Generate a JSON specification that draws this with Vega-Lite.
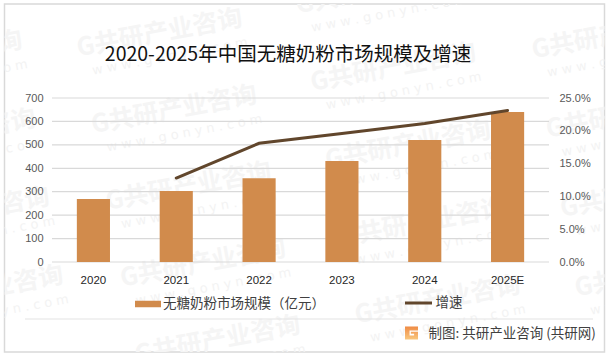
{
"$schema":"https://vega.github.io/schema/vega-lite/v6.json",
"width":600,"height":348,"autosize":"none",
"padding":{"left":4.5,"top":4,"right":4.5,"bottom":4},
"background":"white",
"view":{"stroke":"#d9d9d9","strokeWidth":1.5,"fill":"white"},
"config":{"font":"Noto Sans CJK SC"},
"title":{"text":"2020-2025年中国无糖奶粉市场规模及增速","font":"Noto Sans CJK SC","fontSize":19.5,"fontWeight":"normal","color":"#111111","anchor":"middle","frame":"group","dx":-16.5,"offset":-70,"baseline":"middle"},
"datasets":{
"sales":[{"year":"2020","size":269},{"year":"2021","size":303},{"year":"2022","size":358},{"year":"2023","size":431},{"year":"2024","size":521},{"year":"2025E","size":640}],
"growth":[{"year":"2021","rate":0.128},{"year":"2022","rate":0.181},{"year":"2023","rate":0.196},{"year":"2024","rate":0.211},{"year":"2025E","rate":0.231}],
"grid":[{"v":0},{"v":100},{"v":200},{"v":300},{"v":400},{"v":500},{"v":600},{"v":700}],
"four":[{"row":0},{"row":1},{"row":2},{"row":3}],
"five":[{"row":0},{"row":1},{"row":2},{"row":3},{"row":4}],
"one":[{"k":"x"}]
},
"resolve":{"scale":{"x":"independent","y":"independent"},"axis":{"x":"independent","y":"independent"}},
"layer":[
{"data":{"name":"four"},"mark":{"type":"text","text":"G共研产业咨询","font":"Noto Sans CJK SC","fontWeight":"bold","fontSize":25,"angle":349.5,"color":"#f5f5f5","clip":true},
 "encoding":{"x":{"field":"row","type":"quantitative","axis":null,"scale":{"domain":[0,3],"range":[-65,-24]}},"y":{"field":"row","type":"quantitative","axis":null,"scale":{"domain":[0,3],"range":[51,286]}}}},
{"data":{"name":"five"},"mark":{"type":"text","text":"G共研产业咨询","font":"Noto Sans CJK SC","fontWeight":"bold","fontSize":25,"angle":349.5,"color":"#f5f5f5","clip":true},
 "encoding":{"x":{"field":"row","type":"quantitative","axis":null,"scale":{"domain":[0,4],"range":[155,213]}},"y":{"field":"row","type":"quantitative","axis":null,"scale":{"domain":[0,4],"range":[29,336]}}}},
{"data":{"name":"five"},"mark":{"type":"text","text":"G共研产业咨询","font":"Noto Sans CJK SC","fontWeight":"bold","fontSize":25,"angle":349.5,"color":"#f5f5f5","clip":true},
 "encoding":{"x":{"field":"row","type":"quantitative","axis":null,"scale":{"domain":[0,4],"range":[374,433]}},"y":{"field":"row","type":"quantitative","axis":null,"scale":{"domain":[0,4],"range":[-14,296]}}}},
{"data":{"name":"four"},"mark":{"type":"text","text":"G共研产业咨询","font":"Noto Sans CJK SC","fontWeight":"bold","fontSize":25,"angle":349.5,"color":"#f5f5f5","clip":true},
 "encoding":{"x":{"field":"row","type":"quantitative","axis":null,"scale":{"domain":[0,3],"range":[610,653]}},"y":{"field":"row","type":"quantitative","axis":null,"scale":{"domain":[0,3],"range":[31,269]}}}},
{"data":{"name":"four"},"mark":{"type":"text","text":"w w w . g o n y n . c o m","font":"DejaVu Sans","fontSize":13,"angle":349.5,"color":"#f3f3f3","clip":true,"dy":25,"dx":6},
 "encoding":{"x":{"field":"row","type":"quantitative","axis":null,"scale":{"domain":[0,3],"range":[-65,-24]}},"y":{"field":"row","type":"quantitative","axis":null,"scale":{"domain":[0,3],"range":[51,286]}}}},
{"data":{"name":"five"},"mark":{"type":"text","text":"w w w . g o n y n . c o m","font":"DejaVu Sans","fontSize":13,"angle":349.5,"color":"#f3f3f3","clip":true,"dy":25,"dx":6},
 "encoding":{"x":{"field":"row","type":"quantitative","axis":null,"scale":{"domain":[0,4],"range":[155,213]}},"y":{"field":"row","type":"quantitative","axis":null,"scale":{"domain":[0,4],"range":[29,336]}}}},
{"data":{"name":"five"},"mark":{"type":"text","text":"w w w . g o n y n . c o m","font":"DejaVu Sans","fontSize":13,"angle":349.5,"color":"#f3f3f3","clip":true,"dy":25,"dx":6},
 "encoding":{"x":{"field":"row","type":"quantitative","axis":null,"scale":{"domain":[0,4],"range":[374,433]}},"y":{"field":"row","type":"quantitative","axis":null,"scale":{"domain":[0,4],"range":[-14,296]}}}},
{"data":{"name":"four"},"mark":{"type":"text","text":"w w w . g o n y n . c o m","font":"DejaVu Sans","fontSize":13,"angle":349.5,"color":"#f3f3f3","clip":true,"dy":25,"dx":6},
 "encoding":{"x":{"field":"row","type":"quantitative","axis":null,"scale":{"domain":[0,3],"range":[610,653]}},"y":{"field":"row","type":"quantitative","axis":null,"scale":{"domain":[0,3],"range":[31,269]}}}},
{"data":{"name":"grid"},
 "mark":{"type":"rule","stroke":"#d9d9d9","strokeWidth":1.2},
 "encoding":{
  "x":{"datum":0,"type":"quantitative","axis":null,"scale":{"domain":[0,1],"range":[47.5,544.5]}},
  "x2":{"datum":1},
  "y":{"field":"v","type":"quantitative","axis":null,"scale":{"domain":[0,700],"range":[258,94],"nice":false}}
 }
},
{"data":{"name":"one"},
 "mark":{"type":"rule","stroke":"#e3e3e3","strokeWidth":1},
 "encoding":{
  "x":{"datum":0,"type":"quantitative","axis":null,"scale":{"domain":[0,1],"range":[20.5,588.5]}},
  "x2":{"datum":1},
  "y":{"datum":0,"type":"quantitative","axis":null,"scale":{"domain":[0,1],"range":[315,315]}}
 }
},
{"data":{"name":"sales"},
 "mark":{"type":"bar","fill":"#d18b4c"},
 "encoding":{
  "x":{"field":"year","type":"nominal","scale":{"type":"band","domain":["2020","2021","2022","2023","2024","2025E"],"range":[47.5,544.5],"paddingInner":0.6,"paddingOuter":0.3},
   "axis":{"orient":"bottom","offset":-90,"zindex":1,"domain":false,"ticks":false,"grid":false,"labelAngle":0,"labelFont":"Liberation Sans","labelFontSize":11.5,"labelColor":"#262626","labelPadding":12,
    "title":"制图: 共研产业咨询 (共研网)","titleFont":"Noto Sans CJK SC","titleFontSize":13.5,"titleFontWeight":"normal","titleColor":"#404040","titleX":423.5,"titleY":71,"titleAlign":"left","titleBaseline":"middle","titleAnchor":"start"}},
  "y":{"field":"size","type":"quantitative","scale":{"domain":[0,700],"range":[258,94],"nice":false},
   "axis":{"orient":"left","offset":-47.5,"zindex":1,"domain":false,"ticks":false,"grid":false,"values":[0,100,200,300,400,500,600,700],"labelFont":"Liberation Sans","labelFontSize":11,"labelColor":"#595959","labelPadding":9,"title":null}},
  "fill":{"datum":"无糖奶粉市场规模（亿元）","type":"nominal","scale":{"domain":["无糖奶粉市场规模（亿元）"],"range":["#d18b4c"]},
   "legend":{"title":null,"orient":"none","legendX":130.5,"legendY":287,"labelLimit":260,"symbolType":"M-1,-0.25H1V0.25H-1Z","symbolSize":676,"symbolStrokeWidth":0,"symbolOpacity":1,"labelFont":"Noto Sans CJK SC","labelFontSize":13.5,"labelColor":"#404040","labelOffset":2}}
 }
},
{"data":{"name":"growth"},
 "mark":{"type":"line","strokeWidth":3,"interpolate":"linear","strokeCap":"round"},
 "encoding":{
  "x":{"field":"year","type":"nominal","axis":null,"scale":{"type":"point","domain":["2020","2021","2022","2023","2024","2025E"],"range":[47.5,544.5],"padding":0.5}},
  "y":{"field":"rate","type":"quantitative","scale":{"domain":[0,0.25],"range":[258,94],"nice":false},
   "axis":{"orient":"right","offset":-55.5,"zindex":1,"domain":false,"ticks":false,"grid":false,"values":[0,0.05,0.1,0.15,0.2,0.25],"format":".1%","labelFont":"Liberation Sans","labelFontSize":11,"labelColor":"#595959","labelPadding":10,"title":null}},
  "stroke":{"datum":"增速","type":"nominal","scale":{"domain":["增速"],"range":["#61462c"]},
   "legend":{"title":null,"orient":"none","legendX":399,"legendY":284,"symbolSize":729,"symbolStrokeWidth":3,"labelFont":"Noto Sans CJK SC","labelFontSize":13.5,"labelColor":"#404040","labelOffset":2}}
 }
},
{"data":{"name":"one"},
 "mark":{"type":"point","filled":true,"size":169,"shape":"M-1,-1H1V-0.4H-0.3V0.4H0.4V0.1H-0.1V-0.2H1V1H-1Z","opacity":1,
  "fill":{"gradient":"linear","x1":0,"y1":0,"x2":0,"y2":1,"stops":[{"offset":0,"color":"#ef8b45"},{"offset":1,"color":"#f9c77e"}]}},
 "encoding":{
  "x":{"datum":0,"type":"quantitative","axis":null,"scale":{"domain":[0,1],"range":[407,407]}},
  "y":{"datum":0,"type":"quantitative","axis":null,"scale":{"domain":[0,1],"range":[329,329]}}
 }
}
]
}
